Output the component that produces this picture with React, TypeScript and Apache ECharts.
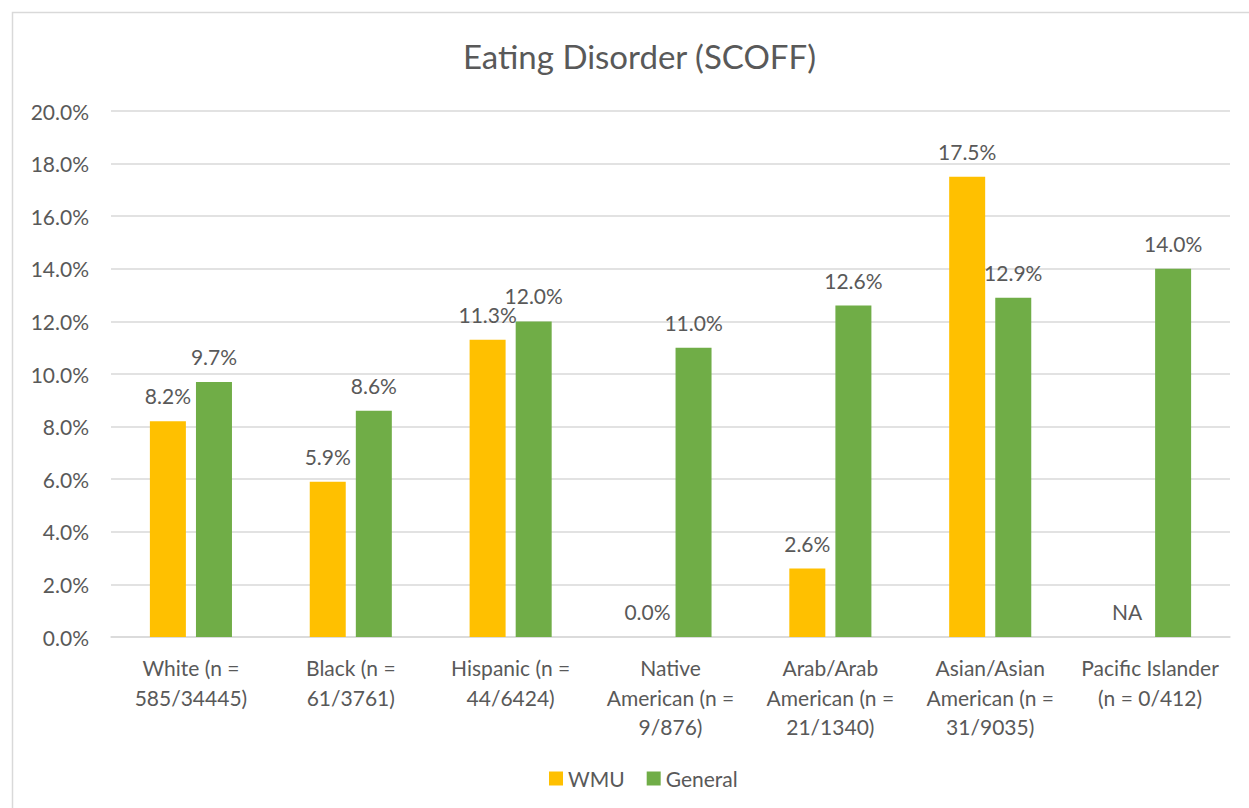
import React, { useEffect, useRef } from "react";
import * as echarts from "echarts";

// Share of respondents screening positive on the SCOFF questionnaire, by group
const categories = [
  "White (n =\n585/34445)",
  "Black (n =\n61/3761)",
  "Hispanic (n =\n44/6424)",
  "Native\nAmerican (n =\n9/876)",
  "Arab/Arab\nAmerican (n =\n21/1340)",
  "Asian/Asian\nAmerican (n =\n31/9035)",
  "Pacific Islander\n(n = 0/412)",
];
const wmuValues: (number | null)[] = [8.2, 5.9, 11.3, 0.0, 2.6, 17.5, null];
const generalValues = [9.7, 8.6, 12.0, 11.0, 12.6, 12.9, 14.0];
const seriesNames = ["WMU", "General"];
const yTicks = { min: 0, max: 20, interval: 2 };

const TEXT = "#595959";
const GRID = "#d9d9d9";
const FONT = "Lato, 'Open Sans', sans-serif";
const FS = 21;

export default function App() {
  const ref = useRef<HTMLDivElement>(null);

  useEffect(() => {
    if (!ref.current) return;
    const chart = echarts.init(ref.current, undefined, { renderer: "svg" });

    const pct = (v: number) => v.toFixed(1) + "%";
    const labelStyle = {
      show: true,
      position: "top" as const,
      distance: 15,
      color: TEXT,
      fontSize: FS,
      fontFamily: FONT,
      formatter: (p: any) => pct(Number(p.value)),
    };

    // Missing WMU values sit on the baseline as a transparent bar labelled "NA"
    const wmuData = wmuValues.map((v) =>
      v === null
        ? {
            value: 0,
            itemStyle: { color: "rgba(0,0,0,0)" },
            label: { formatter: "NA" },
          }
        : v
    );

    chart.setOption({
      animation: false,
      backgroundColor: "#ffffff",
      textStyle: { fontFamily: FONT, color: TEXT },
      title: {
        text: "Eating Disorder (SCOFF)",
        left: 458,
        top: 34,
        textStyle: { color: TEXT, fontSize: 33, fontWeight: "normal", fontFamily: FONT },
      },
      graphic: [
        {
          type: "rect",
          shape: { x: 12.5, y: 12.5, width: 1300, height: 900 },
          style: { fill: "none", stroke: GRID, lineWidth: 1.5 },
          silent: true,
        },
      ],
      legend: {
        data: seriesNames,
        top: 763,
        left: 544,
        itemWidth: 14,
        itemHeight: 14,
        itemGap: 22,
        icon: "rect",
        textStyle: { color: TEXT, fontSize: FS, fontFamily: FONT },
      },
      grid: { left: 111, right: 19, top: 111, bottom: 171, containLabel: false },
      xAxis: {
        type: "category",
        data: categories,
        axisLine: { show: true, lineStyle: { color: GRID, width: 1.5 } },
        axisTick: { show: false },
        axisLabel: {
          color: TEXT,
          fontSize: FS,
          fontFamily: FONT,
          lineHeight: 29.5,
          margin: 16,
          interval: 0,
          verticalAlign: "top",
        },
      },
      yAxis: {
        type: "value",
        min: yTicks.min,
        max: yTicks.max,
        interval: yTicks.interval,
        axisLine: { show: false },
        axisTick: { show: false },
        splitLine: { lineStyle: { color: GRID, width: 1.5 } },
        axisLabel: {
          color: TEXT,
          fontSize: FS,
          fontFamily: FONT,
          margin: 22,
          formatter: (v: number) => pct(v),
        },
      },
      series: [
        {
          name: seriesNames[0],
          type: "bar",
          data: wmuData,
          barWidth: 36,
          barGap: "28%",
          itemStyle: { color: "#FFC000" },
          label: labelStyle,
        },
        {
          name: seriesNames[1],
          type: "bar",
          data: generalValues,
          barWidth: 36,
          barGap: "28%",
          itemStyle: { color: "#70AD47" },
          label: labelStyle,
        },
      ],
    });

    return () => chart.dispose();
  }, []);

  return (
    <div
      ref={ref}
      style={{ position: "fixed", left: 0, top: 0, width: 1249, height: 808 }}
    />
  );
}
